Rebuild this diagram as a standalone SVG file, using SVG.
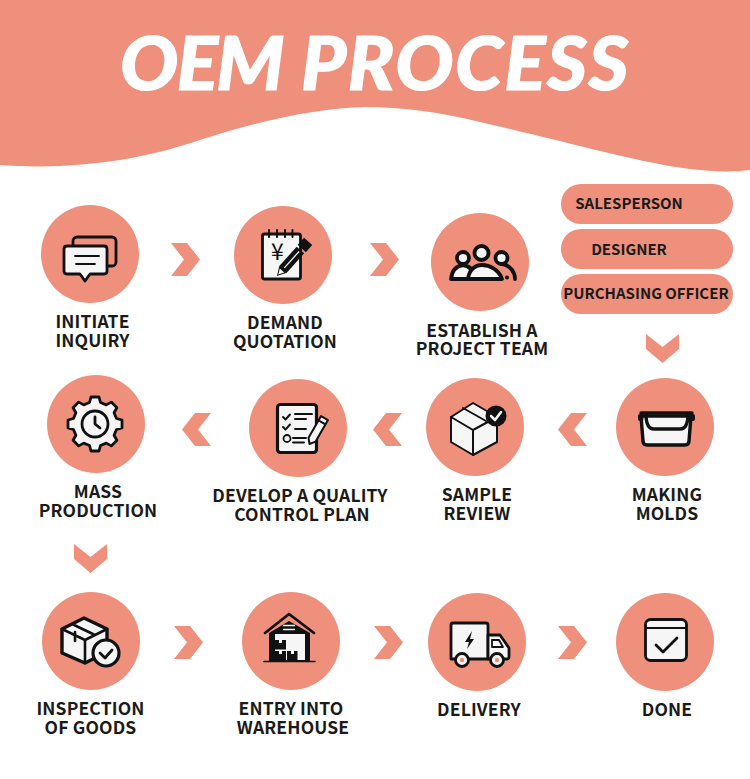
<svg xmlns="http://www.w3.org/2000/svg" width="750" height="779" viewBox="0 0 750 779">
<style>
.c{fill:#EE907C}
.l{font-family:"Noto Sans CJK SC","Noto Sans",sans-serif;font-weight:700;font-size:17.5px;fill:#1a1a1a;text-anchor:middle;letter-spacing:.15px}
.p{font-family:"Noto Sans CJK SC","Noto Sans",sans-serif;font-weight:700;font-size:15px;fill:#1a1a1a;text-anchor:middle}
.k{fill:none;stroke:#111;stroke-width:2.800;stroke-linecap:round;stroke-linejoin:round}
.w{fill:#f6f6f6;stroke:#111;stroke-width:2.800;stroke-linejoin:round;stroke-linecap:round}
.b{fill:#111}
.t{fill:#f6f6f6}
.a{fill:#EE907C}
</style>
<rect width="750" height="779" fill="#fff"/>
<g id="banner">
<path class="c" d="M0 0H750V170C735 172 715 172 690 169C640 163 560 140 480 122C440 112 400 107 365 107C320 108 260 120 200 140C160 153 120 163 60 166C35 167 15 166 0 165Z"/>
<text x="375" y="90" font-family="Lato,'Open Sans',sans-serif" font-weight="900" font-style="italic" font-size="74" fill="#fff" stroke="#fff" stroke-width="1.200" text-anchor="middle" textLength="510" lengthAdjust="spacingAndGlyphs"><tspan letter-spacing="-1.500">OEM</tspan><tspan letter-spacing="1.500"> PROCESS</tspan></text>
</g>
<g id="connectors">
<path class="a" d="M171 243H187L200 259.5L187 276H171L184 259.5Z"/>
<path class="a" d="M370 243H386L399 259.5L386 276H370L383 259.5Z"/>
<path class="a" d="M646 334L662.5 347L679 334V349L662.5 363L646 349Z"/>
<path class="a" d="M587 413H571L558 429.500L571 446H587L574 429.500Z"/>
<path class="a" d="M402 413H386L373 429.500L386 446H402L389 429.500Z"/>
<path class="a" d="M211 413H195L182 429.500L195 446H211L198 429.500Z"/>
<path class="a" d="M74 544L90.500 557L107 544V559L90.500 573L74 559Z"/>
<path class="a" d="M174 626H190L203 642.500L190 659H174L187 642.500Z"/>
<path class="a" d="M374 626H390L403 642.500L390 659H374L387 642.500Z"/>
<path class="a" d="M558 626H574L587 642.500L574 659H558L571 642.500Z"/>
</g>
<g id="node-initiate-inquiry">
<circle class="c" cx="90" cy="254" r="49"/>
<rect class="k" x="73" y="237" width="43" height="29" rx="4"/>
<path class="w" d="M67 246H104Q107 246 107 249V271Q107 274 104 274H90L85 281L80 274H67Q64 274 64 271V249Q64 246 67 246Z"/>
<path class="k" d="M75 256H99M76 264H95" style="stroke-width:1.800"/>
<text class="l" x="92.500" y="328">INITIATE</text>
<text class="l" x="92.500" y="347">INQUIRY</text>
</g>
<g id="node-demand-quotation">
<circle class="c" cx="283" cy="255" r="49"/>
<rect class="w" x="262.500" y="234" width="38" height="45" rx="2"/>
<path class="k" d="M269 230V237M277 230V237M285 230V237M292.500 230V237" style="stroke-width:2"/>
<text x="277.500" y="260" font-family="'Noto Sans CJK SC',sans-serif" font-size="23" font-weight="400" fill="#111" text-anchor="middle">¥</text>
<g transform="translate(277 276) rotate(-48)">
<path d="M0 0L9 -5H35V5H9Z" class="b"/>
<path d="M2 0L7.500 -3L7.500 3Z" fill="#f6f6f6"/>
<path d="M11 0H33" stroke="#f6f6f6" stroke-width="1.300"/>
<rect x="37" y="-5.500" width="9.500" height="11" class="b"/>
</g>
<text class="l" x="285" y="329">DEMAND</text>
<text class="l" x="285" y="348">QUOTATION</text>
</g>
<g id="node-establish-team">
<circle class="c" cx="480" cy="262" r="49"/>
<path class="k" d="M502 264C510 265 515 272 515 279" style="stroke-width:3.800"/>
<path class="w" d="M451 279C452 270 456 266 463 265C470 266 474 270 474 279Z" style="stroke-width:3.800"/>
<circle class="w" cx="463" cy="258" r="6" style="stroke-width:3.800"/>
<circle class="w" cx="501.500" cy="258" r="6" style="stroke-width:3.800"/>
<path class="w" d="M468 279C469 270 475 265 482 265C490 265 499 270 502 279Z" style="stroke-width:3.800"/>
<circle class="w" cx="481.500" cy="253" r="7" style="stroke-width:3.800"/>
<circle class="b" cx="507" cy="277.500" r="2"/>
<text class="l" x="482" y="336.500">ESTABLISH A</text>
<text class="l" x="482" y="355">PROJECT TEAM</text>
</g>
<g id="node-roles">
<rect class="c" x="561" y="184" width="172" height="40" rx="20"/>
<rect class="c" x="561" y="229" width="172" height="40" rx="20"/>
<rect class="c" x="561" y="274" width="172" height="40" rx="20"/>
<text class="p" x="629" y="209">SALESPERSON</text>
<text class="p" x="629" y="255">DESIGNER</text>
<text class="p" x="646" y="299">PURCHASING OFFICER</text>
</g>
<g id="node-mass-production">
<circle class="c" cx="96" cy="424" r="49"/>
<g transform="translate(95 424)">
<path class="w" d="M-5.500 -21.500L-4 -27L4 -27L5.500 -21.500L11.300 -19.100L16.300 -21.900L21.900 -16.300L19.100 -11.300L21.500 -5.500L27 -4L27 4L21.500 5.500L19.100 11.300L21.900 16.300L16.300 21.900L11.300 19.100L5.500 21.500L4 27L-4 27L-5.500 21.500L-11.300 19.100L-16.300 21.900L-21.900 16.300L-19.100 11.300L-21.500 5.500L-27 4L-27 -4L-21.500 -5.500L-19.100 -11.300L-21.900 -16.300L-16.300 -21.900L-11.300 -19.100Z"/>
<circle class="w" r="13"/>
<path class="k" d="M0 -7V0L5 4"/>
</g>
<text class="l" x="98" y="497.500">MASS</text>
<text class="l" x="98" y="516.500">PRODUCTION</text>
</g>
<g id="node-quality-plan">
<circle class="c" cx="298" cy="428" r="49"/>
<rect class="w" x="277.500" y="404.500" width="39" height="48" rx="3" style="stroke-width:3.200"/>
<path class="k" d="M283 417L285.500 419.500L290 414.500M283 427L285.500 429.500L290 424.500M295 414H312M295 419H306M295 429H306M293 438H306M293 442.500H304" style="stroke-width:1.900"/>
<circle class="k" cx="287" cy="438.500" r="3.500" style="stroke-width:1.800"/>
<g transform="translate(309.500 444) rotate(-60)">
<path class="w" d="M0 0L5 -4H30V4H5Z" style="stroke-width:2"/>
<rect class="b" x="24" y="-4" width="2" height="8"/>
</g>
<text class="l" x="300" y="501.500">DEVELOP A QUALITY</text>
<text class="l" x="302" y="520.500">CONTROL PLAN</text>
</g>
<g id="node-sample-review">
<circle class="c" cx="475" cy="427" r="49"/>
<path class="w" d="M473 403L497 417V442L473 455L451 442V417Z" style="stroke-width:2"/>
<path class="k" d="M451 417L473 430L497 417M473 430V455M463 408L486 421" style="stroke-width:2"/>
<circle class="b" cx="496" cy="416" r="10.500"/>
<path d="M491 416L495 420L501 412" fill="none" stroke="#f6f6f6" stroke-width="2.600" stroke-linecap="round" stroke-linejoin="round"/>
<text class="l" x="477" y="501">SAMPLE</text>
<text class="l" x="477" y="520">REVIEW</text>
</g>
<g id="node-making-molds">
<circle class="c" cx="665" cy="427" r="49"/>
<path class="w" d="M641 416H691L689 441Q689 445 685 445H647Q643 445 643 441Z" style="stroke-width:3.400"/>
<path class="k" d="M641 413H692M646 414Q646 429 654 429H680Q688 429 688 414" style="stroke-width:3.400"/>
<rect class="b" x="638" y="414" width="5.500" height="7" rx="2"/>
<rect class="b" x="689.500" y="414" width="5.500" height="7" rx="2"/>
<text class="l" x="667" y="501">MAKING</text>
<text class="l" x="667" y="520">MOLDS</text>
</g>
<g id="node-inspection">
<circle class="c" cx="91" cy="641" r="49"/>
<path class="w" d="M84 618L107 629V652L85 663L62 653V629Z" style="stroke-width:3.400"/>
<path class="k" d="M62 629L85 640L107 629M85 640V663M72 624L95 635M75 632V641" style="stroke-width:2.600"/>
<circle class="w" cx="106" cy="653" r="13" style="stroke-width:3.200"/>
<path class="k" d="M100 653L105 658L112 650"/>
<text class="l" x="90.500" y="715">INSPECTION</text>
<text class="l" x="90.500" y="733.500">OF GOODS</text>
</g>
<g id="node-warehouse">
<circle class="c" cx="291" cy="641" r="49"/>
<path class="b" d="M289 621L310 633V661H269V633Z"/>
<path class="k" d="M265 633L289 614L314 633"/>
<rect class="t" x="275" y="634" width="30" height="26"/>
<path class="k" d="M283 625.500H295M283 629.500H295" style="stroke-width:1.500;stroke:#f6f6f6;stroke-linecap:butt"/>
<rect class="b" x="275" y="640" width="11" height="9.500"/>
<rect class="b" x="275" y="651" width="11" height="9"/>
<rect class="b" x="287" y="651" width="10.500" height="9"/>
<path d="M279 640H282V643H279ZM279 651H282V654H279ZM291 651H294V654H291Z" fill="#f6f6f6"/>
<path class="k" d="M264 661.500H315" style="stroke-width:1.600"/>
<text class="l" x="291" y="715">ENTRY INTO</text>
<text class="l" x="293" y="733.500">WAREHOUSE</text>
</g>
<g id="node-delivery">
<circle class="c" cx="477" cy="642" r="49"/>
<path class="w" d="M451 625Q451 623 453 623H486Q488 623 488 625V659H451Z"/>
<path class="w" d="M488 635H500L509 648V657Q509 659 507 659H488Z"/>
<path class="k" d="M492 640H499L503 647H492Z" style="stroke-width:1.800"/>
<path class="b" d="M472 631L465 642H469L467 649L474 639H470Z"/>
<circle class="w" cx="462" cy="660" r="6.500"/>
<circle cx="462" cy="660" r="2.200" fill="#EE907C"/>
<circle class="w" cx="497" cy="660" r="6.500"/>
<circle cx="497" cy="660" r="2.200" fill="#EE907C"/>
<text class="l" x="479" y="716">DELIVERY</text>
</g>
<g id="node-done">
<circle class="c" cx="665" cy="642" r="49"/>
<rect class="w" x="645.500" y="619.500" width="41" height="41" rx="5"/>
<path class="k" d="M646 628H686" style="stroke-width:1.800"/>
<path class="k" d="M656 645L663 652L677 638"/>
<text class="l" x="667" y="716">DONE</text>
</g>
</svg>
